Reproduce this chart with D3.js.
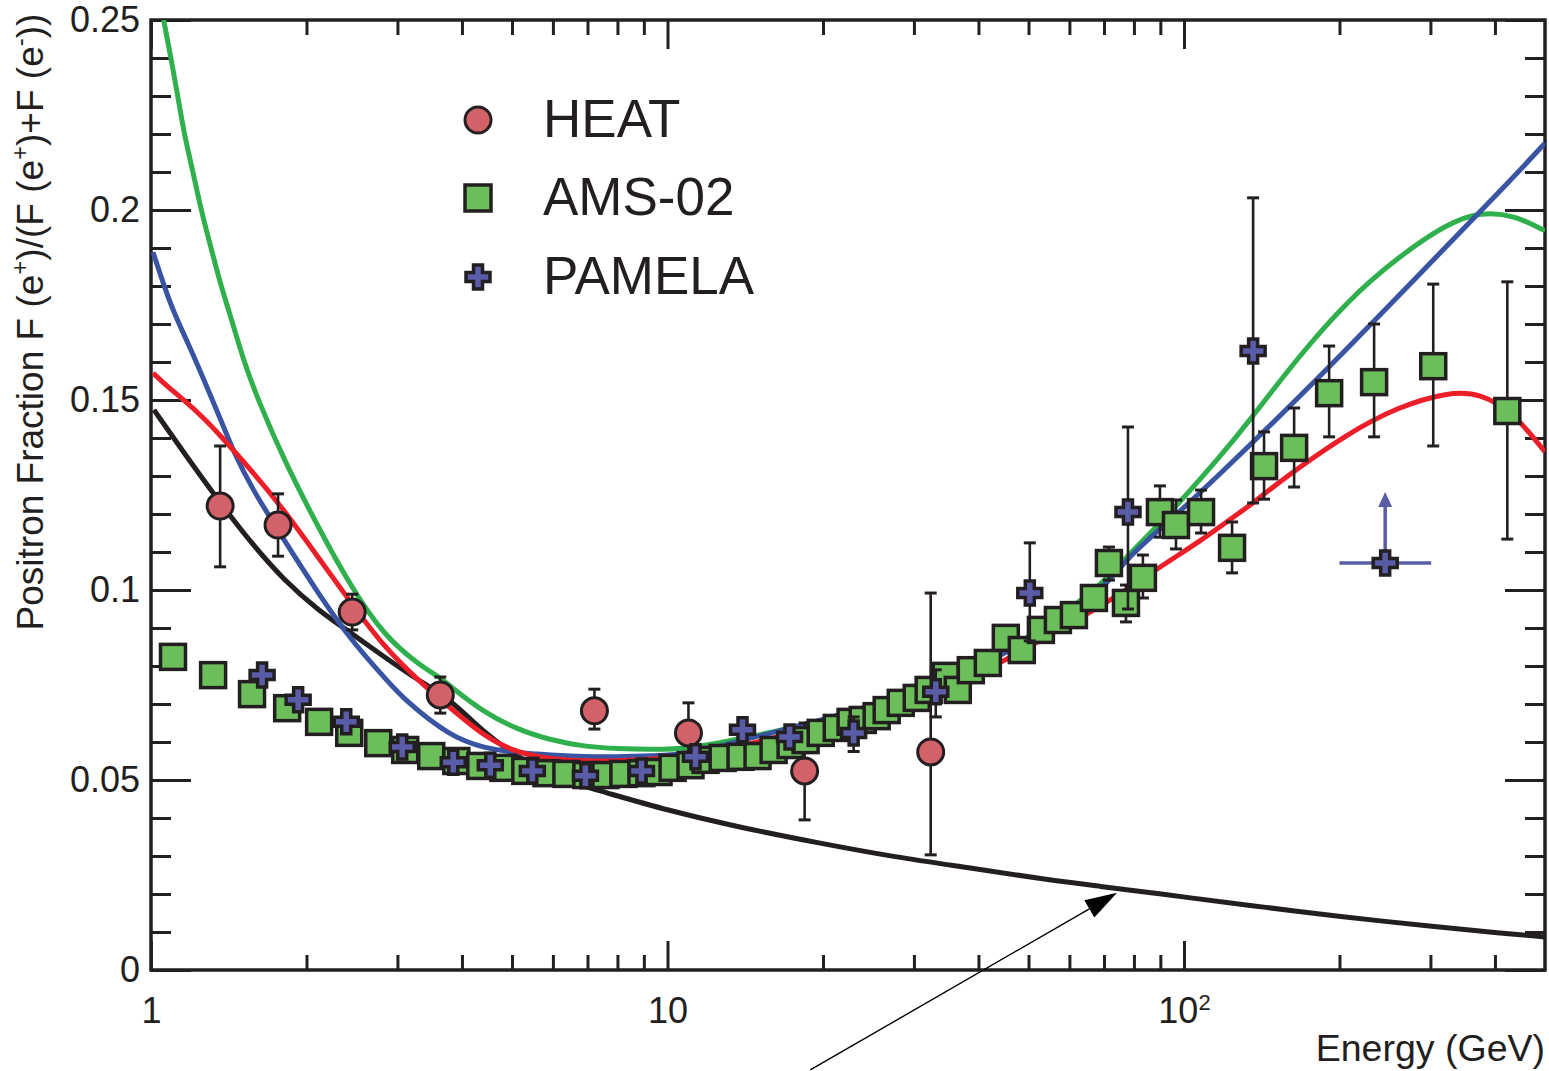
<!DOCTYPE html>
<html><head><meta charset="utf-8">
<script src="https://cdn.jsdelivr.net/npm/d3@7"></script>
<style>
html,body{margin:0;padding:0;background:#fff;}
svg{display:block;}
text{font-family:"Liberation Sans",Arial,Helvetica,sans-serif;fill:#231f20;}
</style></head><body>
<svg id="chart" width="1549" height="1071"></svg>
<script>
// ---------------- DATA ----------------
const xMajorTicks = [1, 10, 100];
const xTickLabels = ["1", "10", "10^2"];
const xMinorTicks = [2,3,4,5,6,7,8,9,20,30,40,50,60,70,80,90,200,300,400];
const yMajorTicks = [0, 0.05, 0.1, 0.15, 0.2, 0.25];
const yTickLabels = ["0", "0.05", "0.1", "0.15", "0.2", "0.25"];
const yMinorTicks = [0.01,0.02,0.03,0.04,0.06,0.07,0.08,0.09,0.11,0.12,0.13,0.14,0.16,0.17,0.18,0.19,0.21,0.22,0.23,0.24];
const seriesNames = ["HEAT", "AMS-02", "PAMELA"];

// HEAT
const heatE  = [1.361, 1.762, 2.452, 3.632, 7.220, 10.98, 18.43, 32.33];
const heatV  = [0.1221, 0.1171, 0.0942, 0.0724, 0.0682, 0.0624, 0.0524, 0.0574];
const heatLo = [0.1061, 0.1089, 0.0895, 0.0676, 0.0634, 0.0555, 0.0395, 0.0303];
const heatHi = [0.1379, 0.1253, 0.0989, 0.0771, 0.0739, 0.0703, 0.0650, 0.0992];

// AMS-02
const amsE = [1.103,1.319,1.569,1.835,2.116,2.420,2.754,3.106,3.488,3.901,4.341,4.811,5.306,5.830,6.372,6.966,7.584,8.216,8.904,9.607,
  10.23,11.08,11.85,12.79,13.85,14.94,16.05,17.31,18.51,19.80,21.27,22.62,23.88,25.41,26.57,28.29,30.38,32.04,34.57,36.48,38.66,
  41.71,45.19,48.53,52.84,57.00,61.22,66.93,71.56,77.21,83.27,89.83,96.49,107.9,123.9,142.9,163.4,191.0,233.4,303.8,422.7];
const amsV = [0.0824,0.0776,0.0726,0.0689,0.0653,0.0624,0.0597,0.0579,0.0563,0.0550,0.0537,0.0532,0.0524,0.0518,0.0516,0.0513,0.0513,0.0516,0.0518,0.0521,
  0.0532,0.0539,0.0553,0.0558,0.0561,0.0563,0.0579,0.0592,0.0605,0.0624,0.0637,0.0653,0.0658,0.0668,0.0684,0.0703,0.0716,0.0737,0.0774,0.0737,0.0789,
  0.0808,0.0874,0.0842,0.0895,0.0921,0.0934,0.0979,0.1071,0.0966,0.1032,0.1205,0.1171,0.1205,0.1111,0.1326,0.1374,0.1518,0.1547,0.1589,0.1471];
const amsErrE  = [71.56, 77.21, 83.27, 89.83, 96.49, 107.9, 123.9, 142.9, 163.4, 191.0, 233.4, 303.8, 422.7];
const amsErrLo = [0.1026, 0.0916, 0.0979, 0.1139, 0.1108, 0.1150, 0.1045, 0.1239, 0.1271, 0.1403, 0.1403, 0.1379, 0.1134];
const amsErrHi = [0.1113, 0.1013, 0.1092, 0.1274, 0.1237, 0.1263, 0.1179, 0.1416, 0.1479, 0.1642, 0.1700, 0.1805, 0.1811];

// PAMELA
const pamE = [1.641,1.927,2.388,3.065,3.848,4.539,5.474,6.936,8.904,11.33,13.97,17.23,22.93,33.07,50.29,77.9,136.1];
const pamV = [0.0776,0.0711,0.0653,0.0587,0.0547,0.0539,0.0524,0.0511,0.0524,0.0561,0.0632,0.0613,0.0624,0.0732,0.0992,0.1205,0.1629];
const pamErrE  = [22.93, 33.07, 50.29, 77.9, 136.1];
const pamErrLo = [0.0575, 0.0666, 0.0866, 0.0950, 0.1229];
const pamErrHi = [0.0666, 0.0790, 0.1124, 0.1429, 0.2032];
// PAMELA lower limit point
const pamLimE = [245.2], pamLimV = [0.1071], pamLimELo = [200], pamLimEHi = [301], pamLimArrowV = [0.1258];

// Model curves
const greenE = [1.058,1.093,1.128,1.158,1.206,1.25,1.307,1.366,1.441,1.514,1.612,1.809,2.105,2.439,2.826,3.288,3.643,3.809,4.413,5.135,5.95,6.891,8.02,9.292,11.0,13.94,16.1,20.0,26.7,35.0,44.8,55.3,69.1,77.9,89.1,98.7,116.4,133.0,166.3,207.8,259.6,324.4,375.8,435.5,500];
const greenV = [0.250,0.240,0.2297,0.2203,0.210,0.200,0.190,0.180,0.170,0.160,0.150,0.1342,0.1166,0.1008,0.0880,0.0805,0.0768,0.0745,0.0678,0.0632,0.0605,0.0588,0.0582,0.0580,0.0582,0.0610,0.0627,0.0657,0.0708,0.0770,0.0835,0.0915,0.1012,0.1092,0.1170,0.1235,0.1345,0.1440,0.1613,0.1763,0.1876,0.1966,0.1995,0.1987,0.1945];
const blueE = [1.009,1.060,1.108,1.179,1.25,1.366,1.448,1.562,1.809,2.105,2.439,2.826,3.089,3.809,4.413,5.135,5.95,6.891,8.02,9.292,11.0,13.94,19.65,26.73,35.0,44.8,55.3,69.1,77.9,89.1,114.3,178.5,278.8,429.7,500];
const blueV = [0.1889,0.1800,0.1729,0.1650,0.1571,0.1447,0.1361,0.1271,0.1132,0.0992,0.0868,0.0771,0.0711,0.0613,0.0584,0.0571,0.0566,0.0561,0.0561,0.0564,0.0566,0.0605,0.0655,0.0708,0.0765,0.0830,0.0905,0.0995,0.1087,0.1155,0.1289,0.1545,0.1816,0.2079,0.2176];
const redE = [1.009,1.079,1.158,1.278,1.348,1.562,1.809,2.105,2.439,2.826,3.288,3.643,4.413,5.135,5.95,6.891,8.02,9.292,11.0,13.94,19.65,26.73,35.0,44.8,55.3,69.1,89.1,107.9,123.9,134.8,154.1,207.8,259.6,324.4,375.8,435.5,500];
const redV = [0.1571,0.1534,0.1500,0.1447,0.1413,0.1316,0.1211,0.1087,0.0966,0.0850,0.0763,0.0711,0.0613,0.0571,0.0555,0.0550,0.0550,0.0555,0.0560,0.0590,0.0640,0.0700,0.0755,0.0808,0.0887,0.0955,0.1058,0.1130,0.1190,0.1224,0.1289,0.1413,0.1482,0.1521,0.1518,0.1466,0.1363];
const blackE = [1.013,1.158,1.348,1.562,1.809,2.105,2.439,2.826,3.288,3.809,4.413,5.135,5.95,7.568,9.933,13.94,19.65,27.57,38.87,54.54,69.08,86.7,100,145.4,199.6,304.8,411,500];
const blackV = [0.1474,0.1361,0.1237,0.1124,0.1026,0.0947,0.0887,0.0824,0.0763,0.0711,0.0624,0.0561,0.0508,0.0468,0.0421,0.0374,0.0334,0.0297,0.0268,0.0237,0.0220,0.0203,0.0192,0.0164,0.0141,0.0114,0.0097,0.0087];

// annotation arrow (data coords: from -> to)
const arrowFrom = [18.9, -0.0263];
const arrowTo = [74.2, 0.0203];

// ---------------- DRAW ----------------
const INK = "#231f20";
const FONT = '"Liberation Sans", Arial, Helvetica, sans-serif';
const svg = d3.select("#chart");
const x = d3.scaleLog().domain([1, 500]).range([151, 1545]);
const y = d3.scaleLinear().domain([0, 0.25]).range([970, 20]);

svg.append("defs").append("clipPath").attr("id", "plotclip")
  .append("rect").attr("x", 151).attr("y", 20).attr("width", 1394).attr("height", 950);

function styleAxis(g) {
  g.select(".domain").remove();
  g.attr("font-family", FONT).attr("font-size", 36);
  g.selectAll(".tick line").attr("stroke", INK).attr("stroke-width", 3);
  g.selectAll(".tick text").attr("fill", INK);
}

// bottom
svg.append("g").attr("transform", "translate(0,970)")
  .call(d3.axisBottom(x).tickValues(xMinorTicks).tickSize(-15).tickFormat(""))
  .call(styleAxis);
const bx = svg.append("g").attr("transform", "translate(0,970)")
  .call(d3.axisBottom(x).tickValues(xMajorTicks).tickSize(-29).tickPadding(27).tickFormat((d, i) => xTickLabels[i]))
  .call(styleAxis);
bx.selectAll(".tick text").each(function(d, i) {
  const lab = xTickLabels[i];
  if (lab.includes("^")) {
    const [base, exp] = lab.split("^");
    const t = d3.select(this).text(null);
    t.append("tspan").text(base);
    t.append("tspan").attr("font-size", 22).attr("dy", "-0.55em").text(exp);
  }
});
// top
svg.append("g").attr("transform", "translate(0,20)")
  .call(d3.axisTop(x).tickValues(xMinorTicks).tickSize(-15).tickFormat(""))
  .call(styleAxis);
svg.append("g").attr("transform", "translate(0,20)")
  .call(d3.axisTop(x).tickValues(xMajorTicks).tickSize(-29).tickFormat(""))
  .call(styleAxis);
// left
svg.append("g").attr("transform", "translate(151,0)")
  .call(d3.axisLeft(y).tickValues(yMinorTicks).tickSize(-20).tickFormat(""))
  .call(styleAxis);
svg.append("g").attr("transform", "translate(151,0)")
  .call(d3.axisLeft(y).tickValues(yMajorTicks).tickSize(-40).tickPadding(11).tickFormat((d, i) => yTickLabels[i]))
  .call(styleAxis);
// right
svg.append("g").attr("transform", "translate(1545,0)")
  .call(d3.axisRight(y).tickValues(yMinorTicks).tickSize(-20).tickFormat(""))
  .call(styleAxis);
svg.append("g").attr("transform", "translate(1545,0)")
  .call(d3.axisRight(y).tickValues(yMajorTicks).tickSize(-40).tickFormat(""))
  .call(styleAxis);

// frame
svg.append("rect").attr("x", 151).attr("y", 20).attr("width", 1394).attr("height", 950)
  .attr("fill", "none").attr("stroke", INK).attr("stroke-width", 3.5);

// curves
const line = d3.line().x(d => x(d[0])).y(d => y(d[1])).curve(d3.curveBasis);
const curves = [
  {E: blackE, V: blackV, c: "#231f20"},
  {E: greenE, V: greenV, c: "#2fb04c"},
  {E: blueE,  V: blueV,  c: "#3a54a4"},
  {E: redE,   V: redV,   c: "#ec1e28"}
];
const cg = svg.append("g").attr("clip-path", "url(#plotclip)");
curves.forEach(cv => {
  cg.append("path").datum(cv.E.map((e, i) => [e, cv.V[i]]))
    .attr("d", line).attr("fill", "none").attr("stroke", cv.c)
    .attr("stroke-width", 5).attr("stroke-linejoin", "round");
});

// error bar helper
function errBars(g, E, lo, hi) {
  const d = E.map((e, i) => [e, lo[i], hi[i]]);
  g.selectAll(null).data(d).enter().append("line")
    .attr("x1", d => x(d[0])).attr("x2", d => x(d[0]))
    .attr("y1", d => y(d[1])).attr("y2", d => y(d[2]))
    .attr("stroke", INK).attr("stroke-width", 2.6);
  [1, 2].forEach(k => {
    g.selectAll(null).data(d).enter().append("line")
      .attr("x1", d => x(d[0]) - 6).attr("x2", d => x(d[0]) + 6)
      .attr("y1", d => y(d[k])).attr("y2", d => y(d[k]))
      .attr("stroke", INK).attr("stroke-width", 3);
  });
}
const plusPath = (cx, cy, a, b) =>
  `M${cx-b},${cy-a}H${cx+b}V${cy-b}H${cx+a}V${cy+b}H${cx+b}V${cy+a}H${cx-b}V${cy+b}H${cx-a}V${cy-b}H${cx-b}Z`;

const HEATC = "#d2616a", AMSC = "#6cbe5b", PAMC = "#5a5ca8";
const SQ = 25;

// HEAT
const hg = svg.append("g");
errBars(hg, heatE, heatLo, heatHi);
hg.selectAll("circle").data(heatE.map((e, i) => [e, heatV[i]])).enter().append("circle")
  .attr("cx", d => x(d[0])).attr("cy", d => y(d[1])).attr("r", 13)
  .attr("fill", HEATC).attr("stroke", INK).attr("stroke-width", 3);

// AMS-02
const ag = svg.append("g");
errBars(ag, amsErrE, amsErrLo, amsErrHi);
ag.selectAll("rect").data(amsE.map((e, i) => [e, amsV[i]])).enter().append("rect")
  .attr("x", d => x(d[0]) - SQ / 2).attr("y", d => y(d[1]) - SQ / 2).attr("width", SQ).attr("height", SQ)
  .attr("fill", AMSC).attr("stroke", INK).attr("stroke-width", 3.5);

// PAMELA
const pg = svg.append("g");
errBars(pg, pamErrE, pamErrLo, pamErrHi);
pamLimE.forEach((e, i) => {
  pg.append("line").attr("x1", x(pamLimELo[i])).attr("x2", x(pamLimEHi[i]))
    .attr("y1", y(pamLimV[i])).attr("y2", y(pamLimV[i])).attr("stroke", PAMC).attr("stroke-width", 3.5);
  const tipY = y(pamLimArrowV[i]), cx = x(e);
  pg.append("line").attr("x1", cx).attr("x2", cx).attr("y1", y(pamLimV[i])).attr("y2", tipY + 10)
    .attr("stroke", PAMC).attr("stroke-width", 3.5);
  pg.append("path").attr("d", `M${cx},${tipY}L${cx-7},${tipY+15}L${cx+7},${tipY+15}Z`).attr("fill", PAMC);
});
pg.selectAll("path.pm").data(pamE.map((e, i) => [e, pamV[i]]).concat(pamLimE.map((e, i) => [e, pamLimV[i]])))
  .enter().append("path").attr("class", "pm")
  .attr("d", d => plusPath(x(d[0]), y(d[1]), 12, 4.5))
  .attr("fill", PAMC).attr("stroke", INK).attr("stroke-width", 3.5).attr("stroke-linejoin", "miter");

// annotation arrow
{
  const x0 = x(arrowFrom[0]), y0 = y(arrowFrom[1]), x1 = x(arrowTo[0]), y1 = y(arrowTo[1]);
  const ang = Math.atan2(y1 - y0, x1 - x0), L = 32, Wd = 10;
  const bx0 = x1 - L * Math.cos(ang), by0 = y1 - L * Math.sin(ang);
  svg.append("line").attr("x1", x0).attr("y1", y0).attr("x2", bx0).attr("y2", by0)
    .attr("stroke", "#000").attr("stroke-width", 1.4);
  const px = -Math.sin(ang) * Wd, py = Math.cos(ang) * Wd;
  svg.append("path").attr("d", `M${x1},${y1}L${bx0+px},${by0+py}L${bx0-px},${by0-py}Z`).attr("fill", "#000");
}

// legend
const lg = svg.append("g");
const legY = [120, 198, 277], legBase = [137, 215, 294];
lg.append("circle").attr("cx", 478).attr("cy", legY[0]).attr("r", 13)
  .attr("fill", HEATC).attr("stroke", INK).attr("stroke-width", 3);
lg.append("rect").attr("x", 478 - 13).attr("y", legY[1] - 13).attr("width", 26).attr("height", 26)
  .attr("fill", AMSC).attr("stroke", INK).attr("stroke-width", 3.5);
lg.append("path").attr("d", plusPath(478, legY[2], 12, 4.5))
  .attr("fill", PAMC).attr("stroke", INK).attr("stroke-width", 3.5);
seriesNames.forEach((n, i) => {
  lg.append("text").attr("x", 543).attr("y", legBase[i]).attr("font-size", 53).text(n);
});

// axis titles
svg.append("text").attr("x", 1545).attr("y", 1061).attr("text-anchor", "end")
  .attr("font-size", 37.5).text("Energy (GeV)");
const yt = svg.append("text").attr("transform", "translate(43,322) rotate(-90)")
  .attr("text-anchor", "middle").attr("font-size", 37);
const parts = [["Positron Fraction F (e", 0], ["+", 1], [")/(F (e", 0], ["+", 1], [")+F (e", 0], ["-", 1], ["))", 0]];
let up = false;
parts.forEach(([t, sup]) => {
  const ts = yt.append("tspan").text(t);
  if (sup) { ts.attr("font-size", 24).attr("dy", -15); up = true; }
  else if (up) { ts.attr("dy", 15); up = false; }
});
</script>
</body></html>
